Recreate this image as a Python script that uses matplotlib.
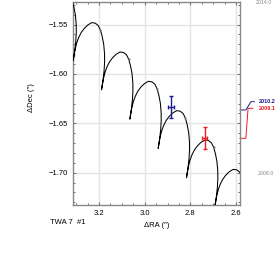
import matplotlib
matplotlib.use("Agg")
import matplotlib.pyplot as plt
import matplotlib.transforms as mtransforms
from matplotlib.ticker import MultipleLocator

plt.rcParams['font.family'] = ['Liberation Sans', 'DejaVu Sans']

# yearly reference positions of the track (cusps), arcsec
ra_epoch = [3.437, 3.313, 3.189, 3.065, 2.941, 2.817, 2.693]
dec_epoch = [-1.5567, -1.5864, -1.6161, -1.6458, -1.6755, -1.7052, -1.7349]

# parallax loop over one year, offsets from the cusp (arcsec)
ra_loop = [0.0000, -0.0035, -0.0088, -0.0153, -0.0241, -0.0350, -0.0482, -0.0635,
           -0.0810, -0.0964, -0.1095, -0.1191, -0.1270, -0.1336, -0.1371, -0.1375,
           -0.1353, -0.1314, -0.1275]
dec_loop = [0.0000, 0.0051, 0.0116, 0.0177, 0.0233, 0.0283, 0.0324, 0.0359,
            0.0383, 0.0378, 0.0354, 0.0309, 0.0243, 0.0162, 0.0071, -0.0010,
            -0.0101, -0.0182, -0.0248]

# small epoch dots on the track
ra_mark = [3.194, 3.070, 2.946, 2.822, 2.698]
dec_mark = [-1.5555, -1.5852, -1.6149, -1.6446, -1.6743]

# measured positions
obs_ra = [2.885, 2.736]
obs_dec = [-1.6338, -1.6652]
obs_ra_err = [0.012, 0.011]
obs_dec_err = [0.011, 0.011]
obs_colors = ['#1c1c8f', '#ee1c1c']
obs_labels = ['2010.2', '2009.1']

ra_track = []
dec_track = []
for ra0, dec0 in zip(ra_epoch, dec_epoch):
    ra_track += [ra0 + d for d in ra_loop]
    dec_track += [dec0 + d for d in dec_loop]

fig = plt.figure(figsize=(2.77, 2.70), dpi=100)
ax = fig.add_axes([0.2625, 0.2407, 0.604, 0.753])

ax.plot(ra_track, dec_track, color='black', lw=0.75, zorder=3)
ax.plot(ra_mark, dec_mark, 'o', color='#777777', ms=1.6, mew=0, zorder=4)

for i in range(len(obs_ra)):
    ax.errorbar(obs_ra[i], obs_dec[i], xerr=obs_ra_err[i], yerr=obs_dec_err[i],
                color=obs_colors[i], lw=1.0, capsize=1.6, capthick=1.0, zorder=5)

ax.set_xlim(3.3152, 2.5824)
ax.set_ylim(-1.7327, -1.5269)

ax.xaxis.set_major_locator(MultipleLocator(0.2))
ax.xaxis.set_minor_locator(MultipleLocator(0.05))
ax.yaxis.set_major_locator(MultipleLocator(0.05))
ax.yaxis.set_minor_locator(MultipleLocator(0.01))
ax.set_xticks([3.2, 3.0, 2.8, 2.6])
ax.set_xticklabels(['3.2', '3.0', '2.8', '2.6'])
ax.set_yticks([-1.55, -1.60, -1.65, -1.70])
ax.set_yticklabels(['\u22121.55', '\u22121.60', '\u22121.65', '\u22121.70'])

ax.grid(True, which='major', color='#e4e4e4', lw=1.0, zorder=0)
ax.tick_params(which='both', direction='in', top=True, right=True,
               color='#555555', labelsize=5.5, width=0.6)
ax.tick_params(which='major', length=2.5, pad=3.5)
ax.tick_params(which='minor', length=1.6)
for s in ax.spines.values():
    s.set_color('#888888')
    s.set_linewidth(1.0)

ax.set_xlabel('\u0394RA (\u2033)', fontsize=5.5)
ax.set_ylabel('\u0394Dec (\u2033)', fontsize=5.5)
ax.xaxis.set_label_coords(0.5, -0.084)
ax.yaxis.set_label_coords(-0.225, 0.53)

fig.text(0.1805, 0.1752, 'TWA 7  #1', fontsize=5.5, va='center', ha='left')

# labels on the right side
trans = mtransforms.blended_transform_factory(ax.transAxes, ax.transData)
ax.plot([1.0, 1.035, 1.065, 1.085], [-1.6365, -1.6365, -1.6281, -1.6281],
        color=obs_colors[0], lw=0.7, transform=trans, clip_on=False)
ax.plot([1.0, 1.035, 1.048, 1.077], [-1.6652, -1.6652, -1.6348, -1.6348],
        color=obs_colors[1], lw=0.7, transform=trans, clip_on=False)
ax.text(1.115, -1.6281, obs_labels[0], color=obs_colors[0], fontsize=4, fontweight='bold',
        va='center', ha='left', transform=trans)
ax.text(1.115, -1.6348, obs_labels[1], color=obs_colors[1], fontsize=4, fontweight='bold',
        va='center', ha='left', transform=trans)
ax.text(1.096, -1.528, '2014.0', color='#888888', fontsize=3.8,
        va='center', ha='left', transform=trans)
ax.text(1.108, -1.7006, '2008.0', color='#888888', fontsize=3.8,
        va='center', ha='left', transform=trans)

fig.savefig('out.png', dpi=100)
